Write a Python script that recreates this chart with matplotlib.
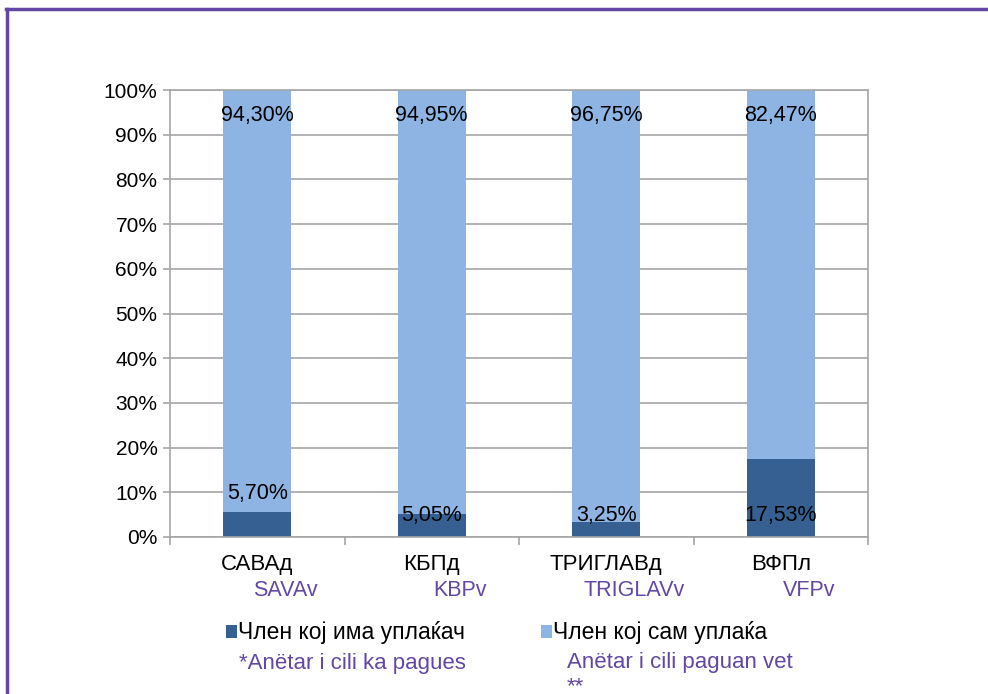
import matplotlib.pyplot as plt
import numpy as np
from matplotlib.lines import Line2D

plt.rcParams['font.family'] = ['Liberation Sans', 'DejaVu Sans']

# data
funds_mk = ['САВАд', 'КБПд', 'ТРИГЛАВд', 'ВФПл']
funds_sq = ['SAVAv', 'KBPv', 'TRIGLAVv', 'VFPv']
with_payer = [5.70, 5.05, 3.25, 17.53]
self_payer = [94.30, 94.95, 96.75, 82.47]
legend_mk = ['Член кој има уплаќач', 'Член кој сам уплаќа']
legend_sq = ['*Anëtar i cili ka pagues', 'Anëtar i cili paguan vet\n**']

DARK = '#376092'
LIGHT = '#8EB4E3'
PURPLE = '#6247A4'
GRID = '#A6A6A6'

fig = plt.figure(figsize=(9.88, 6.94), dpi=100)
ax = fig.add_axes([170 / 988, 1 - 537 / 694, 698 / 988, 447 / 694])

x = np.arange(len(funds_mk))
b1 = ax.bar(x, with_payer, width=0.39, color=DARK, zorder=2)
b2 = ax.bar(x, self_payer, width=0.39, bottom=with_payer, color=LIGHT, zorder=2)

# value labels
fmt = lambda v: f'{v:.2f}%'.replace('.', ',')
for i in range(len(x)):
    ax.text(x[i], 94.4, fmt(self_payer[i]), ha='center', va='center', fontsize=15.5, zorder=3)
    low_y = 9.8 if i == 0 else 4.9
    ax.text(x[i], low_y, fmt(with_payer[i]), ha='center', va='center', fontsize=15.5, zorder=3)

ax.set_xlim(-0.5, 3.5)
ax.set_ylim(0, 100)
ax.set_yticks(np.arange(0, 101, 10))
ax.set_yticklabels([f'{v}%' for v in range(0, 101, 10)], fontsize=15)
ax.yaxis.grid(True, color=GRID, lw=1.2, zorder=0)
ax.tick_params(axis='y', length=5, color=GRID, width=1.2, pad=4)

ax.set_xticks(x)
ax.set_xticklabels(funds_mk, fontsize=16)
ax.tick_params(axis='x', which='major', length=0, pad=12)
ax.set_xticks(np.arange(-0.5, 3.6, 1), minor=True)
ax.tick_params(axis='x', which='minor', length=6, color=GRID, width=1.2)
for i, name in enumerate(funds_sq):
    ax.text(x[i] + 0.16, -12, name, ha='center', va='center', fontsize=15.5,
            color=PURPLE, clip_on=False)

for s in ax.spines.values():
    s.set_color(GRID)
    s.set_linewidth(1.2)

# legend
fig.legend([b1, b2], legend_mk, loc='center left', bbox_to_anchor=(226 / 988, 1 - 633 / 694),
           ncol=2, frameon=False, fontsize=16.5, handlelength=0.48, handleheight=0.48,
           handletextpad=0.05, columnspacing=3.3, borderpad=0, borderaxespad=0)
fig.text(239 / 988, 1 - 663 / 694, legend_sq[0], fontsize=16, color=PURPLE, va='center')
fig.text(567 / 988, 1 - 675 / 694, legend_sq[1], fontsize=16, color=PURPLE, va='center',
         linespacing=1.2)

# outer border (top and left)
fig.add_artist(Line2D([6 / 988, 1], [1 - 9 / 694, 1 - 9 / 694], color=PURPLE, lw=2.5))
fig.add_artist(Line2D([7 / 988, 7 / 988], [0, 1 - 9 / 694], color=PURPLE, lw=2.5))

fig.savefig('out.png', dpi=100)
